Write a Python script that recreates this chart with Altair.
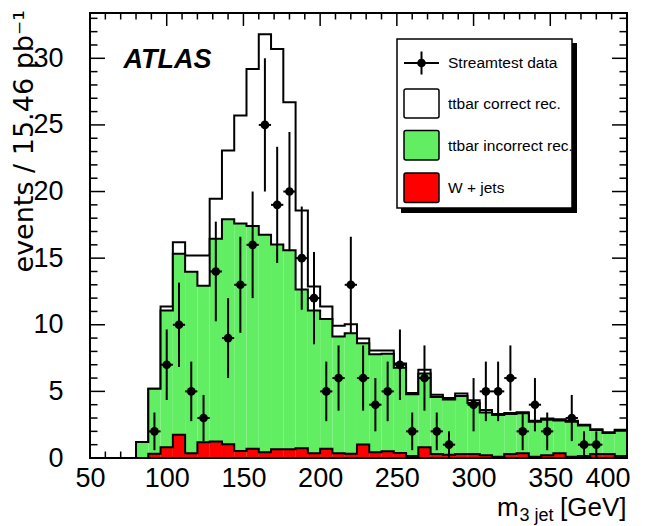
import altair as alt
import numpy as np
import pandas as pd

# ---------------- data ----------------
BIN_W = 8
bin_lo = list(range(80, 400, BIN_W))          # 40 bins, 80..392

wjets = [0.0, 0.31, 0.81, 1.75, 0.36, 1.19, 1.24, 1.03, 0.53, 0.70,
         0.44, 0.66, 0.66, 0.74, 0.36, 0.69, 0.36, 0.31, 1.01, 0.44,
         0.50, 0.38, 0.15, 0.81, 0.30, 0.25, 0.30, 0.30, 0.20, 0.10,
         0.30, 0.35, 0.10, 0.20, 0.35, 0.10, 0.15, 0.30, 0.30, 0.15]

incorrect = [1.20, 4.89, 10.26, 13.58, 13.61, 11.73, 15.21, 16.89, 17.07, 16.72,
             16.31, 15.37, 14.94, 11.91, 10.72, 9.75, 8.75, 9.05, 7.60, 7.34,
             7.32, 6.40, 4.63, 5.54, 4.27, 4.15, 4.36, 3.82, 3.22, 3.12,
             3.00, 3.00, 2.62, 2.68, 2.47, 2.62, 2.29, 1.80, 1.58, 1.90]

correct = [0.00, 0.00, 0.30, 0.87, 1.23, 2.28, 3.00, 5.16, 8.10, 11.78,
           15.05, 14.67, 11.10, 5.92, 1.80, 0.94, 0.81, 0.67, 0.36, 0.28,
           0.24, 0.32, 0.10, 0.28, 0.17, 0.10, 0.18, 0.21, 0.18, 0.08,
           0.08, 0.08, 0.07, 0.08, 0.08, 0.07, 0.06, 0.06, 0.06, 0.07]

data_center = list(range(84, 400, BIN_W))
data_counts = [0, 2, 7, 10, 5, 3, 14, 9, 13, 16,
               25, 19, 20, 15, 12, 5, 6, 13, 6, 4,
               5, 7, 2, 6, 2, 1, 0, 4, 5, 5,
               6, 2, 4, 2, 0, 3, 1, 1, 0, 0]

x_major = [50, 100, 150, 200, 250, 300, 350, 400]
x_minor = [v for v in range(50, 401, 10) if v % 50]
y_major = [0, 5, 10, 15, 20, 25, 30]
y_minor = [v for v in range(0, 34) if v % 5]

legend_labels = ["Streamtest data", "ttbar correct rec.",
                 "ttbar incorrect rec.", "W + jets"]
GREEN = "#62ee62"
RED = "#ff0000"

FONT = "Liberation Sans"
W, H = 537, 445

# ---------------- derived tables ----------------
red_top = np.array(wjets)
green_top = red_top + np.array(incorrect)
total_top = green_top + np.array(correct)
bin_hi = [b + BIN_W for b in bin_lo]

def fill_df(tops):
    return pd.DataFrame({"lo": bin_lo, "hi": bin_hi, "top": list(tops)})

def outline_df(tops):
    tops = list(tops)
    xs = [bin_lo[0]] + bin_lo + [bin_hi[-1], bin_hi[-1]]
    ys = [0.0] + tops + [tops[-1], 0.0]
    return pd.DataFrame({"x": xs, "y": ys, "i": list(range(len(xs)))})

pts = pd.DataFrame({"c": data_center, "n": data_counts})
pts = pts[pts["n"] > 0].copy()
pts["err"] = np.sqrt(pts["n"])
pts["lo"] = pts["n"] - pts["err"]
pts["hi"] = pts["n"] + pts["err"]
pts["xlo"] = pts["c"] - BIN_W / 2
pts["xhi"] = pts["c"] + BIN_W / 2

xs = alt.Scale(domain=[50, 400], nice=False, zero=False)
ys = alt.Scale(domain=[0, 33.4], nice=False)
xaxis = alt.Axis(values=x_major, labelFontSize=27, labelFont=FONT, labelColor="black",
                 ticks=False, domain=False, grid=False, labelPadding=7, tickSize=0,
                 labelFlush=False, title="", labelOverlap=False,
                 labelAlign=alt.expr("datum.value >= 400 ? 'right' : 'center'"),
                 labelOffset=alt.expr("datum.value >= 400 ? 3 : 0"))
yaxis = alt.Axis(values=y_major, labelFontSize=27, labelFont=FONT, labelColor="black",
                 ticks=False, domain=False, grid=False, labelPadding=27, tickSize=0,
                 title="", labelOverlap=False)

one = pd.DataFrame({"a": [0]})

def X(f):
    return alt.X(f, scale=xs, axis=xaxis)

def Y(f):
    return alt.Y(f, scale=ys, axis=yaxis)

layers = []

# inner ticks (drawn beneath histograms)
tick_specs = [(x_major, 13, "x"), (x_minor, 6.5, "x"), (y_major, 15, "y"), (y_minor, 7.5, "y")]
for vals, ln, ax in tick_specs:
    d = pd.DataFrame({"v": vals})
    if ax == "x":
        layers.append(alt.Chart(d).mark_rule(color="black", strokeWidth=1.5).encode(
            x=X("v:Q"), y=alt.value(H), y2=alt.value(H - ln)))
        layers.append(alt.Chart(d).mark_rule(color="black", strokeWidth=1.5).encode(
            x=X("v:Q"), y=alt.value(0), y2=alt.value(ln)))
    else:
        layers.append(alt.Chart(d).mark_rule(color="black", strokeWidth=1.5).encode(
            y=Y("v:Q"), x=alt.value(0), x2=alt.value(ln)))
        layers.append(alt.Chart(d).mark_rule(color="black", strokeWidth=1.5).encode(
            y=Y("v:Q"), x=alt.value(W), x2=alt.value(W - ln)))

# stacked histograms: total (white), incorrect (green), W+jets (red)
for tops, col in [(total_top, "white"), (green_top, GREEN), (red_top, RED)]:
    layers.append(alt.Chart(fill_df(tops)).mark_rect(color=col).encode(
        x=X("lo:Q"), x2="hi:Q", y=Y("top:Q"), y2=alt.datum(0)))
    layers.append(alt.Chart(outline_df(tops)).mark_line(
        interpolate="step-after", color="black", strokeWidth=2).encode(
        x=X("x:Q"), y=Y("y:Q"), order="i:Q"))

# data points with error bars
layers.append(alt.Chart(pts).mark_rule(color="black", strokeWidth=2).encode(
    x=X("c:Q"), y=Y("lo:Q"), y2="hi:Q"))
layers.append(alt.Chart(pts).mark_rule(color="black", strokeWidth=2).encode(
    x=X("xlo:Q"), x2="xhi:Q", y=Y("n:Q")))
layers.append(alt.Chart(pts).mark_point(filled=True, shape="circle", size=75,
                                        color="black", opacity=1).encode(
    x=X("c:Q"), y=Y("n:Q")))

# frame on top
layers.append(alt.Chart(one).mark_rect(fill="transparent", stroke="black", strokeWidth=2).encode(
    x=alt.value(0), x2=alt.value(W), y=alt.value(0), y2=alt.value(H)))

# legend box with shadow
layers.append(alt.Chart(one).mark_rect(color="black").encode(
    x=alt.value(311), x2=alt.value(487), y=alt.value(30), y2=alt.value(200)))
layers.append(alt.Chart(one).mark_rect(fill="white", stroke="black", strokeWidth=1.5).encode(
    x=alt.value(307), x2=alt.value(482), y=alt.value(26), y2=alt.value(195)))
# data symbol
layers.append(alt.Chart(one).mark_rule(color="black", strokeWidth=2).encode(
    x=alt.value(314), x2=alt.value(349), y=alt.value(50)))
layers.append(alt.Chart(one).mark_rule(color="black", strokeWidth=2).encode(
    x=alt.value(331.5), y=alt.value(38.5), y2=alt.value(61.5)))
layers.append(alt.Chart(one).mark_point(filled=True, shape="circle", size=75,
                                        color="black", opacity=1).encode(
    x=alt.value(331.5), y=alt.value(50)))
# boxes
for (y0, y1), col in [((76, 105), "white"), ((117.5, 147), GREEN), ((160, 189.5), RED)]:
    layers.append(alt.Chart(one).mark_rect(fill=col, stroke="black", strokeWidth=1.5,
                                           cornerRadius=2).encode(
        x=alt.value(314), x2=alt.value(349), y=alt.value(y0), y2=alt.value(y1)))
leg_df = pd.DataFrame({"t": legend_labels, "yy": [50, 91, 132.5, 175]})
layers.append(alt.Chart(leg_df).mark_text(align="left", baseline="middle", font=FONT,
                                          fontSize=15.5, color="black").encode(
    x=alt.value(358), y=alt.Y("yy:Q", scale=None, axis=None), text="t:N"))

# ATLAS label
layers.append(alt.Chart(pd.DataFrame({"t": ["ATLAS"]})).mark_text(
    align="left", baseline="alphabetic", font=FONT, fontSize=27, fontWeight="bold",
    fontStyle="italic", color="black").encode(
    x=alt.value(33.5), y=alt.value(54.5), text="t:N"))

# axis titles
layers.append(alt.Chart(pd.DataFrame({"t": ["events / 15.46 pb\u207b\u00b9"]})).mark_text(
    align="right", baseline="alphabetic", angle=270, font="DejaVu Sans", fontSize=27,
    color="black").encode(x=alt.value(-57), y=alt.value(-3), text="t:N"))
xt = pd.DataFrame({"t": ["m", "3 jet", "[GeV]"], "xx": [407, 429.5, 470],
                   "yy": [502.5, 508, 502.5], "fs": [26, 18, 26]})
for i in range(3):
    layers.append(alt.Chart(xt.iloc[[i]]).mark_text(
        align="left", baseline="alphabetic", font=FONT, fontSize=int(xt["fs"][i]),
        color="black").encode(x=alt.value(float(xt["xx"][i])),
                              y=alt.value(float(xt["yy"][i])), text="t:N"))

chart = alt.layer(*layers).properties(
    width=W, height=H,
    autosize=alt.AutoSizeParams(type="none"),
    padding={"left": 82, "top": 5, "right": 12, "bottom": 68},
    background="white",
).configure_view(strokeWidth=0)

chart.save("out.html", embed_options={"renderer": "svg", "actions": False})
